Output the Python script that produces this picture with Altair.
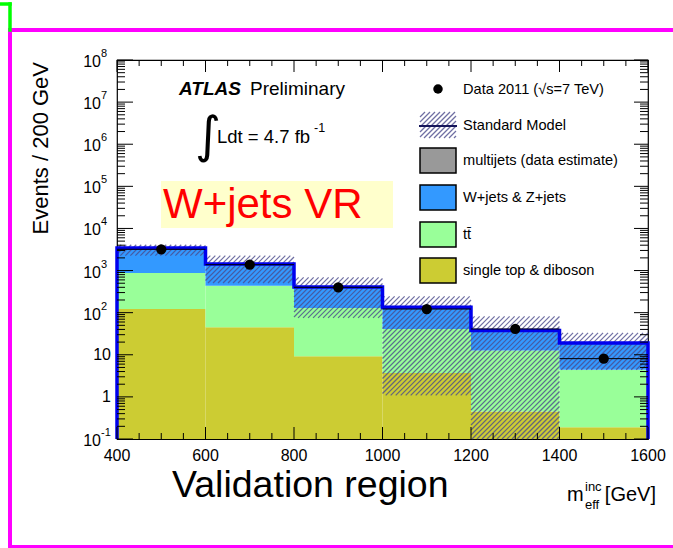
import altair as alt
import pandas as pd
import numpy as np

# ---------------- data ----------------
bin_lo = [400, 600, 800, 1000, 1200, 1400]
bin_hi = [600, 800, 1000, 1200, 1400, 1600]
single_top_diboson = [122, 45, 9.2, 3.7, 0.45, 0.19]
ttbar = [748, 392, 120, 37.3, 12.2, 4.2]
wz_jets = [2570, 998, 279, 93, 25.3, 14.6]
multijets = [0, 0, 0, 0, 0, 0]
data_2011 = [3200, 1380, 400, 122, 41, 8.1]
sm_band_lo = [2260, 507, 75, 1.09, 0.1, 4.4]
sm_band_hi = [4100, 2260, 689, 244, 81.7, 33]

x_major = [400, 600, 800, 1000, 1200, 1400, 1600]
x_labels = ["400", "600", "800", "1000", "1200", "1400", "1600"]
y_decades = [-1, 0, 1, 2, 3, 4, 5, 6, 7, 8]

components = ["single top & diboson", "tt\u0304", "W+jets & Z+jets", "multijets (data estimate)"]
comp_colors = ["#cccc33", "#99ff99", "#3399ff", "#999999"]
legend_labels = ["Data 2011 (\u221as=7 TeV)", "Standard Model",
                 "multijets (data estimate)", "W+jets & Z+jets", "t\u0074\u0304", "single top & diboson"]

FONT = "Liberation Sans"
W, H = 531, 379
YMIN, YMAX = 0.1, 1e8

xs = alt.Scale(domain=[400, 1600], nice=False, zero=False)
ys = alt.Scale(type="log", domain=[YMIN, YMAX], nice=False)

# ---------------- stacked histogram ----------------
rows = []
for i in range(len(bin_lo)):
    base = YMIN
    cum = 0.0
    for name, vals in zip(components, [single_top_diboson, ttbar, wz_jets, multijets]):
        cum += vals[i]
        top = max(cum, base)
        rows.append(dict(lo=bin_lo[i], hi=bin_hi[i], bottom=base, top=top, comp=name))
        base = top
stack_df = pd.DataFrame(rows)
totals = [a + b + c + d for a, b, c, d in zip(single_top_diboson, ttbar, wz_jets, multijets)]

stack = alt.Chart(stack_df).mark_rect(strokeWidth=0).encode(
    x=alt.X("lo:Q", scale=xs, axis=None), x2="hi:Q",
    y=alt.Y("bottom:Q", scale=ys, axis=None), y2="top:Q",
    color=alt.Color("comp:N", scale=alt.Scale(domain=components, range=comp_colors), legend=None),
)

# ---------------- hatched uncertainty band (45 degree lines in screen space) ----------------
def u_of(x):
    return (x - 400) / 1200 * W

def v_of(y):
    return (np.log10(y) + 1) / 9 * H

def x_of(u):
    return 400 + u / W * 1200

def y_of(v):
    return 10 ** (v / H * 9 - 1)

spacing = 5.0
HATCH_COLOR = "#4b4b8c"
hrows = []
for i in range(len(bin_lo)):
    u0, u1 = u_of(bin_lo[i]), u_of(bin_hi[i])
    v0, v1 = v_of(sm_band_lo[i]), v_of(sm_band_hi[i])
    c = np.floor((u0 - v1) / spacing) * spacing
    while c <= u1 - v0 + spacing:
        ua = max(u0, v0 + c)
        ub = min(u1, v1 + c)
        if ub - ua > 0.3:
            hrows.append(dict(x1=x_of(ua), y1=y_of(ua - c), x2=x_of(ub), y2=y_of(ub - c)))
        c += spacing
hatch_df = pd.DataFrame(hrows)
hatch = alt.Chart(hatch_df).mark_rule(color=HATCH_COLOR, strokeWidth=1.2, opacity=0.8).encode(
    x=alt.X("x1:Q", scale=xs, axis=None), y=alt.Y("y1:Q", scale=ys, axis=None),
    x2="x2:Q", y2="y2:Q",
)

# ---------------- total SM outline ----------------
orows = [dict(o=0, x=bin_lo[0], y=YMIN)]
k = 1
for i in range(len(bin_lo)):
    orows.append(dict(o=k, x=bin_lo[i], y=totals[i])); k += 1
    orows.append(dict(o=k, x=bin_hi[i], y=totals[i])); k += 1
orows.append(dict(o=k, x=bin_hi[-1], y=YMIN))
outline = alt.Chart(pd.DataFrame(orows)).mark_line(color="#0000ee", strokeWidth=3.5, strokeJoin="miter").encode(
    x=alt.X("x:Q", scale=xs, axis=None), y=alt.Y("y:Q", scale=ys, axis=None), order="o:Q"
)

# ---------------- data ----------------
data_df = pd.DataFrame(dict(lo=bin_lo, hi=bin_hi, mid=[(a + b) / 2 for a, b in zip(bin_lo, bin_hi)], n=data_2011))
xerr = alt.Chart(data_df).mark_rule(color="black", strokeWidth=1).encode(
    x=alt.X("lo:Q", scale=xs, axis=None), x2="hi:Q", y=alt.Y("n:Q", scale=ys, axis=None)
)
points = alt.Chart(data_df).mark_point(filled=True, color="black", size=105, opacity=1, shape="circle").encode(
    x=alt.X("mid:Q", scale=xs, axis=None), y=alt.Y("n:Q", scale=ys, axis=None)
)

# ---------------- ticks (inside, on all four sides) ----------------
x_minor = [v for v in range(400, 1601, 50) if v not in x_major]
y_major_vals = [10.0 ** d for d in y_decades]
y_minor_vals = [m * 10.0 ** d for d in y_decades[:-1] for m in range(2, 10)]

def xticks(vals, y0, y1):
    return alt.Chart(pd.DataFrame(dict(v=vals))).mark_rule(color="black", strokeWidth=1).encode(
        x=alt.X("v:Q", scale=xs, axis=None), y=alt.value(y0), y2=alt.value(y1))

def yticks(vals, x0, x1):
    return alt.Chart(pd.DataFrame(dict(v=vals))).mark_rule(color="black", strokeWidth=1).encode(
        y=alt.Y("v:Q", scale=ys, axis=None), x=alt.value(x0), x2=alt.value(x1))

ticks = [
    xticks(x_major, H, H - 12), xticks(x_minor, H, H - 6),
    xticks(x_major, 0, 12), xticks(x_minor, 0, 6),
    yticks(y_major_vals, 0, 16), yticks(y_minor_vals, 0, 8),
    yticks(y_major_vals, W, W - 14), yticks(y_minor_vals, W, W - 8),
]

# ---------------- tick labels ----------------
xlab = alt.Chart(pd.DataFrame(dict(v=x_major, t=x_labels))).mark_text(
    font=FONT, fontSize=16, align="center", baseline="middle", color="black").encode(
    x=alt.X("v:Q", scale=xs, axis=None), y=alt.value(H + 17), text="t:N")

plain = pd.DataFrame(dict(v=[1.0, 10.0], t=["1", "10"]))
ylab_plain = alt.Chart(plain).mark_text(font=FONT, fontSize=16, align="right", baseline="middle").encode(
    y=alt.Y("v:Q", scale=ys, axis=None), x=alt.value(-6), text="t:N")
pw = pd.DataFrame(dict(v=[10.0 ** d for d in y_decades if d not in (0, 1)],
                       e=[str(d) for d in y_decades if d not in (0, 1)]))
ylab_base = alt.Chart(pw).mark_text(font=FONT, fontSize=16, align="right", baseline="middle", dy=2).encode(
    y=alt.Y("v:Q", scale=ys, axis=None), x=alt.value(-16), text=alt.value("10"))
ylab_exp = alt.Chart(pw).mark_text(font=FONT, fontSize=11, align="left", baseline="middle", dy=-6).encode(
    y=alt.Y("v:Q", scale=ys, axis=None), x=alt.value(-16), text="e:N")

# ---------------- pixel-space annotations ----------------
one = alt.Data(values=[{}])

def txt(s, x, y, size, **kw):
    return alt.Chart(one).mark_text(text=s, font=kw.pop("font", FONT), fontSize=size,
                                    align=kw.pop("align", "left"), baseline=kw.pop("baseline", "alphabetic"), **kw).encode(
        x=alt.value(x), y=alt.value(y))

def box(x0, x1, y0, y1, fill, stroke=None, sw=0):
    kw = dict(fill=fill, strokeWidth=sw)
    if stroke:
        kw["stroke"] = stroke
    return alt.Chart(one).mark_rect(**kw).encode(
        x=alt.value(x0), x2=alt.value(x1), y=alt.value(y0), y2=alt.value(y1))

def line(x0, y0, x1, y1, color, sw):
    return alt.Chart(one).mark_rule(color=color, strokeWidth=sw, strokeCap="square").encode(
        x=alt.value(x0), x2=alt.value(x1), y=alt.value(y0), y2=alt.value(y1))

annots = [
    txt("ATLAS", 62, 35, 19, fontWeight="bold", fontStyle="italic"),
    txt("Preliminary", 133, 35, 19),
    txt("\u222b", 78, 92, 50, font="DejaVu Sans", fontWeight="normal"),
    txt("Ldt = 4.7 fb", 100, 83, 18.5),
    txt("-1", 197, 72, 12.5),
    box(44, 276, 121, 168, "#ffffcc"),
    txt("W+jets VR", 46, 158, 42, color="#ff0000"),
    txt("Validation region", 55, 437, 37.5),
    txt("m", 450, 441, 20),
    txt("inc", 468, 431, 13),
    txt("eff", 468, 449, 13),
    txt("[GeV]", 539, 441, 20, align="right"),
    txt("Events / 200 GeV", -76, 2, 22, angle=270, align="right", baseline="middle"),
]

# ---------------- legend ----------------
lx0, lx1, ltx = 303, 339, 346
row_y = [29, 65, 100, 137, 174, 210]
leg = []
leg.append(alt.Chart(one).mark_point(filled=True, color="black", size=90, opacity=1, shape="circle").encode(
    x=alt.value((lx0 + lx1) / 2), y=alt.value(row_y[0])))
# hatched SM symbol
lh = []
yt, yb = row_y[1] - 13, row_y[1] + 13
c = lx0 + yt - spacing * 2
while c < lx1 + yb + spacing:
    xa = max(lx0, c - yb)
    xb = min(lx1, c - yt)
    if xb - xa > 0.3:
        lh.append(dict(x1=xa, y1=c - xa, x2=xb, y2=c - xb))
    c += spacing
leg.append(alt.Chart(pd.DataFrame(lh)).mark_rule(color=HATCH_COLOR, strokeWidth=1.2, opacity=0.8).encode(
    x=alt.X("x1:Q", scale=None, axis=None), y=alt.Y("y1:Q", scale=None, axis=None), x2="x2:Q", y2="y2:Q"))
leg.append(line(lx0, row_y[1] + 1, lx1, row_y[1] + 1, "#14145a", 2))
for j, col in zip([2, 3, 4, 5], ["#999999", "#3399ff", "#99ff99", "#cccc33"]):
    leg.append(box(lx0, lx1, row_y[j] - 12, row_y[j] + 13, col, "black", 1.5))
for j, lab in enumerate(legend_labels):
    leg.append(txt(lab, ltx, row_y[j] + 5, 14.6))

# ---------------- page frame decorations ----------------
frame = [
    line(-107, -30, 556, -30, "#ff00ff", 4),
    line(-107, -30, -107, 487, "#ff00ff", 4),
    line(-107, 487, 556, 487, "#ff00ff", 4),
    line(-117, -56, -107, -56, "#00ff00", 3.5),
    line(-107, -56, -107, -30, "#00ff00", 3.5),
]

chart = alt.layer(
    stack, hatch, outline, xerr, points, *ticks, xlab, ylab_plain, ylab_base, ylab_exp,
    *annots, *leg, *frame
).resolve_scale(x="independent", y="independent").properties(
    width=W, height=H,
    autosize=alt.AutoSizeParams(type="none"),
    padding={"left": 117, "top": 60, "right": 25, "bottom": 109},
    background="white",
).configure_view(stroke="black", strokeWidth=1.2)

chart.save("out.html", embed_options={"renderer": "svg", "actions": False})
